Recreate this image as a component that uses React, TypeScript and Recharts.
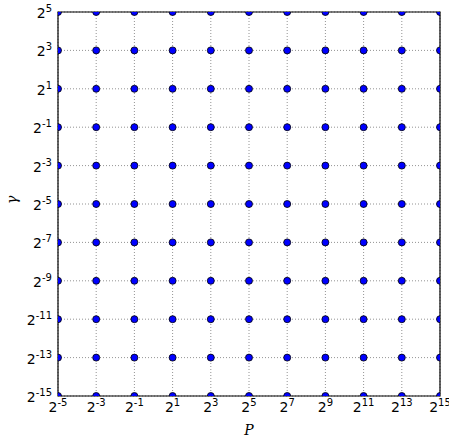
import { ScatterChart, Scatter, XAxis, YAxis, CartesianGrid, ReferenceArea } from "recharts";

// exponents of the searched grid (base 2)
const cExps = [-5, -3, -1, 1, 3, 5, 7, 9, 11, 13, 15];
const gammaExps = [-15, -13, -11, -9, -7, -5, -3, -1, 1, 3, 5];

const gridPoints = cExps.flatMap((c) => gammaExps.map((g) => ({ c, g })));

const FONT = "DejaVu Sans, sans-serif";
const W = 449;
const H = 439;
const M = { top: 12, right: 9, bottom: 0, left: 0 };
const Y_AXIS_W = 58;
const X_AXIS_H = 43;

// plot box, used to cut the markers that sit on the frame
const BOX = {
  x: M.left + Y_AXIS_W,
  y: M.top,
  w: W - M.left - M.right - Y_AXIS_W,
  h: H - M.top - M.bottom - X_AXIS_H,
};

function PowTick({ x, y, payload, anchor, dx = 0, dy = 0 }: any) {
  return (
    <text x={x + dx} y={y + dy} textAnchor={anchor} fontFamily={FONT} fill="#000">
      <tspan fontSize={14}>2</tspan>
      <tspan fontSize={10} dy={-6}>{payload.value}</tspan>
    </text>
  );
}

function renderDot(props: any) {
  const { cx, cy } = props;
  return (
    <svg x={BOX.x} y={BOX.y} width={BOX.w} height={BOX.h} style={{ overflow: "hidden" }}>
      <circle cx={cx - BOX.x} cy={cy - BOX.y} r={3.5} fill="#0000ff" stroke="#000" strokeWidth={0.8} />
    </svg>
  );
}

export default function App() {
  return (
    <div style={{ position: "absolute", left: 0, top: 0, background: "#fff" }}>
      <ScatterChart width={W} height={H} margin={M}>
        <CartesianGrid stroke="#777" strokeDasharray="1 2" strokeWidth={0.8} />
        <XAxis
          type="number"
          dataKey="c"
          domain={[-5, 15]}
          ticks={cExps}
          interval={0}
          allowDataOverflow
          height={X_AXIS_H}
          tickLine={false}
          axisLine={false}
          tick={<PowTick anchor="middle" dy={8} />}
          label={{ value: "P", position: "insideBottom", offset: 4, fontStyle: "italic", fontFamily: "DejaVu Serif, serif", fontSize: 14, fill: "#000" }}
        />
        <YAxis
          type="number"
          dataKey="g"
          domain={[-15, 5]}
          ticks={gammaExps}
          interval={0}
          allowDataOverflow
          width={Y_AXIS_W}
          tickLine={false}
          axisLine={false}
          tick={<PowTick anchor="end" dx={2} dy={6} />}
          label={{ value: "γ", angle: -90, position: "insideLeft", offset: 12, fontStyle: "italic", fontFamily: "DejaVu Serif, serif", fontSize: 14, fill: "#000" }}
        />
        <Scatter data={gridPoints} shape={renderDot} isAnimationActive={false} />
        <ReferenceArea x1={-5} x2={15} y1={-15} y2={5} fill="none" stroke="#000" strokeWidth={1.2} ifOverflow="visible" />
      </ScatterChart>
    </div>
  );
}
